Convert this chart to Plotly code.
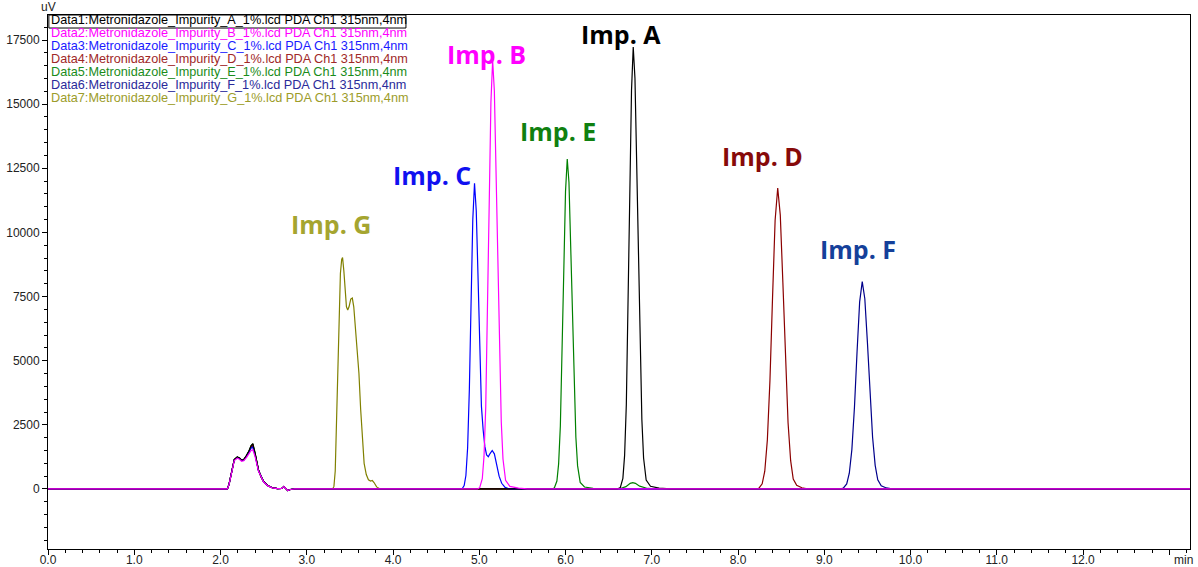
import plotly.graph_objects as go

# ---------------- data ----------------
legend_lines = [
    "Data1:Metronidazole_Impurity_A_1%.lcd PDA Ch1 315nm,4nm",
    "Data2:Metronidazole_Impurity_B_1%.lcd PDA Ch1 315nm,4nm",
    "Data3:Metronidazole_Impurity_C_1%.lcd PDA Ch1 315nm,4nm",
    "Data4:Metronidazole_Impurity_D_1%.lcd PDA Ch1 315nm,4nm",
    "Data5:Metronidazole_Impurity_E_1%.lcd PDA Ch1 315nm,4nm",
    "Data6:Metronidazole_Impurity_F_1%.lcd PDA Ch1 315nm,4nm",
    "Data7:Metronidazole_Impurity_G_1%.lcd PDA Ch1 315nm,4nm",
]
line_colors = ["#000000", "#FF00FF", "#0000FF", "#8B0000", "#008000", "#00008B", "#808000"]
legend_colors = ["#000000", "#FF00FF", "#1A1AFF", "#A02828", "#1A8C1A", "#2A2A9A", "#9C9C2A"]

x_tick_vals = [0, 1, 2, 3, 4, 5, 6, 7, 8, 9, 10, 11, 12, 13]
x_tick_text = ["0.0", "1.0", "2.0", "3.0", "4.0", "5.0", "6.0", "7.0", "8.0", "9.0",
               "10.0", "11.0", "12.0", ""]
y_tick_vals = [0, 2500, 5000, 7500, 10000, 12500, 15000, 17500]
y_tick_text = ["0", "2500", "5000", "7500", "10000", "12500", "15000", "17500"]

run_end = 13.24

# solvent front (common times, per-trace values)
solvent_t = [2.08, 2.10, 2.13, 2.16, 2.195, 2.22, 2.245, 2.27, 2.30, 2.33, 2.355, 2.375,
             2.40, 2.44, 2.47, 2.50, 2.55, 2.60, 2.66, 2.71, 2.735, 2.76, 2.78, 2.81, 2.86]
solvent_A = [0, 200, 750, 1150, 1250, 1210, 1120, 1150, 1300, 1480, 1690, 1770,
             1420, 750, 480, 290, 130, 50, 10, 20, 90, 0, -60, -20, 0]
solvent_B = [0, 190, 720, 1110, 1200, 1160, 1080, 1100, 1220, 1360, 1500, 1530,
             1270, 700, 450, 270, 120, 45, 10, 20, 90, 0, -60, -20, 0]
solvent_C = [0, 200, 740, 1140, 1230, 1190, 1110, 1130, 1260, 1420, 1600, 1630,
             1340, 720, 465, 280, 125, 48, 10, 20, 90, 0, -60, -20, 0]
solvent_D = [0, 200, 745, 1145, 1240, 1200, 1115, 1140, 1280, 1450, 1650, 1710,
             1380, 735, 470, 285, 128, 49, 10, 20, 90, 0, -60, -20, 0]
solvent_E = [0, 200, 750, 1150, 1250, 1210, 1120, 1150, 1300, 1480, 1690, 1760,
             1410, 745, 478, 288, 130, 50, 10, 20, 90, 0, -60, -20, 0]
solvent_F = [0, 200, 745, 1145, 1240, 1200, 1115, 1135, 1270, 1440, 1630, 1660,
             1360, 730, 468, 283, 127, 48, 10, 20, 90, 0, -60, -20, 0]
solvent_G = [0, 200, 745, 1145, 1240, 1200, 1115, 1138, 1275, 1445, 1640, 1690,
             1370, 732, 470, 284, 128, 49, 10, 20, 90, 0, -60, -20, 0]

# Impurity A (black)
peakA_t = [6.60, 6.635, 6.665, 6.685, 6.705, 6.725, 6.745, 6.765, 6.785, 6.805, 6.825,
           6.845, 6.865, 6.885, 6.905, 6.935, 6.985, 7.085, 7.215]
peakA_v = [0, 52, 414, 1310, 3290, 6806, 11406, 15541, 17230, 16007, 12819,
           8856, 5272, 2705, 1206, 345, 103, 34, 0]

# Impurity B (magenta)
peakB_t = [4.98, 5.005, 5.035, 5.055, 5.075, 5.095, 5.115, 5.135, 5.155, 5.175, 5.195,
           5.215, 5.235, 5.255, 5.275, 5.305, 5.355, 5.455, 5.555]
peakB_v = [0, 50, 401, 1269, 3190, 6597, 11055, 15063, 16700, 15514, 12425,
           8584, 5110, 2622, 1169, 334, 100, 33, 0]

# Impurity C (blue) incl. small secondary peak
peakC_t = [4.78, 4.805, 4.825, 4.845, 4.865, 4.885, 4.905, 4.925, 4.945, 4.965, 4.985,
           5.005, 5.025, 5.045, 5.065, 5.085, 5.105, 5.125, 5.15, 5.175, 5.20, 5.23,
           5.26, 5.30, 5.35]
peakC_v = [0, 24, 131, 524, 1609, 3874, 7235, 10513, 11920, 10847, 8344,
           5483, 3218, 2300, 1650, 1330, 1260, 1380, 1500, 1370, 950, 500,
           220, 60, 0]

# Impurity D (dark red)
peakD_t = [8.20, 8.24, 8.28, 8.31, 8.34, 8.37, 8.40, 8.43, 8.46, 8.49, 8.52, 8.55,
           8.58, 8.61, 8.64, 8.68, 8.74, 8.82]
peakD_v = [0, 23, 199, 692, 1912, 4223, 7449, 10475, 11730, 10674, 8035, 5009,
           2581, 1103, 387, 141, 47, 0]

# Impurity E (green) + small peak at the A position
peakE_t = [5.835, 5.87, 5.90, 5.92, 5.94, 5.96, 5.98, 6.00, 6.02, 6.04, 6.06, 6.08,
           6.10, 6.12, 6.14, 6.17, 6.22, 6.32, 6.45,
           6.62, 6.70, 6.75, 6.78, 6.81, 6.86, 6.95, 7.05]
peakE_v = [0, 39, 309, 977, 2456, 5080, 8513, 11600, 12860, 11947, 9568, 6610,
           3935, 2019, 900, 257, 77, 26, 0,
           0, 90, 220, 250, 220, 110, 20, 0]

# Impurity F (navy)
peakF_t = [9.18, 9.22, 9.26, 9.29, 9.32, 9.35, 9.38, 9.41, 9.44, 9.47, 9.50, 9.53,
           9.56, 9.59, 9.62, 9.66, 9.72, 9.80]
peakF_v = [0, 32, 194, 614, 1544, 3194, 5352, 7293, 8085, 7414, 5716, 3703,
           2013, 922, 356, 121, 40, 0]

# Impurity G (olive) - split peak with small tail bump
peakG_t = [3.30, 3.315, 3.33, 3.345, 3.36, 3.375, 3.39, 3.405, 3.415, 3.43, 3.445,
           3.46, 3.475, 3.49, 3.51, 3.528, 3.545, 3.565, 3.585, 3.605, 3.625, 3.645,
           3.665, 3.69, 3.715, 3.74, 3.76, 3.78, 3.81, 3.85]
peakG_v = [0, 100, 700, 2500, 5000, 7000, 8400, 8950, 9020, 8500, 7600,
           7100, 6980, 7100, 7400, 7440, 7100, 6300, 5300, 4500, 3100, 1800,
           1000, 560, 360, 310, 330, 250, 80, 0]

# peak labels
label_text = ["Imp. A", "Imp. B", "Imp. C", "Imp. D", "Imp. E", "Imp. F", "Imp. G"]
label_t = [6.642, 5.078, 4.449, 8.288, 5.917, 9.395, 3.283]
label_v = [17717, 16937, 12232, 12973, 13947, 9355, 10322]
label_colors = ["#000000", "#FF00FF", "#1010F0", "#870A0A", "#108010", "#15409A", "#A5A530"]

# ---------------- figure ----------------
traces = [
    ("Data1", solvent_A, peakA_t, peakA_v, 0),
    ("Data2", solvent_B, peakB_t, peakB_v, 1),
    ("Data3", solvent_C, peakC_t, peakC_v, 2),
    ("Data4", solvent_D, peakD_t, peakD_v, 3),
    ("Data5", solvent_E, peakE_t, peakE_v, 4),
    ("Data6", solvent_F, peakF_t, peakF_v, 5),
    ("Data7", solvent_G, peakG_t, peakG_v, 6),
]
draw_order = [6, 5, 4, 3, 2, 0, 1]

fig = go.Figure()
for i in draw_order:
    name, sv, pt, pv, ci = traces[i]
    t = [0.0] + solvent_t + pt + [run_end]
    v = [0] + sv + pv + [0]
    fig.add_trace(go.Scatter(x=t, y=v, mode="lines", name=name,
                             line=dict(color=line_colors[ci], width=1.2),
                             showlegend=False, hoverinfo="skip"))

annotations = []
for txt, tx, vy, col in zip(label_text, label_t, label_v, label_colors):
    annotations.append(dict(x=tx, y=vy, xref="x", yref="y", text="<b>%s</b>" % txt,
                            showarrow=False, xanchor="center", yanchor="middle",
                            font=dict(family="Open Sans", size=25, color=col)))

legend_y = [18291, 17784, 17277, 16770, 16263, 15756, 15249]
for txt, col, vy in zip(legend_lines, legend_colors, legend_y):
    annotations.append(dict(x=0.012, y=vy, xref="x", yref="y", text=txt, showarrow=False,
                            xanchor="left", yanchor="middle",
                            font=dict(family="Liberation Sans", size=12.7, color=col)))

annotations.append(dict(x=0, y=1, xref="paper", yref="paper", text="uV", showarrow=False,
                        xanchor="center", yanchor="bottom", yshift=-1,
                        font=dict(family="Liberation Sans", size=12, color="#222222")))
annotations.append(dict(x=1, y=0, xref="paper", yref="paper", text="min", showarrow=False,
                        xanchor="right", yanchor="top", xshift=5, yshift=-2,
                        font=dict(family="Liberation Sans", size=12, color="#222222")))

fig.update_layout(
    width=1198, height=567,
    margin=dict(l=48, r=8, t=15, b=18, autoexpand=False),
    plot_bgcolor="white", paper_bgcolor="white",
    annotations=annotations,
    shapes=[dict(type="rect", xref="x", yref="y", x0=0.01, x1=4.15, y0=17967, y1=18475,
                 line=dict(color="black", width=1))],
    xaxis=dict(range=[0, run_end], showgrid=False, zeroline=False, automargin=False,
               showline=True, linecolor="black", linewidth=1, mirror=True,
               tickmode="array", tickvals=x_tick_vals, ticktext=x_tick_text,
               ticks="outside", ticklen=5, tickcolor="black", tickwidth=1,
               ticklabelstandoff=-5,
               tickfont=dict(family="Liberation Sans", size=12, color="#222222"),
               minor=dict(tickmode="linear", tick0=0, dtick=0.2, ticks="outside",
                          ticklen=3, tickcolor="black")),
    yaxis=dict(range=[-2340, 18475], showgrid=False, zeroline=False, automargin=False,
               showline=True, linecolor="black", linewidth=1, mirror=True,
               tickmode="array", tickvals=y_tick_vals, ticktext=y_tick_text,
               ticks="outside", ticklen=5, tickcolor="black", tickwidth=1,
               tickfont=dict(family="Liberation Sans", size=12, color="#222222"),
               minor=dict(tickmode="linear", tick0=0, dtick=500, ticks="outside",
                          ticklen=3, tickcolor="black")),
)

fig.write_html(
    "out.html",
    config={"displayModeBar": False},
    post_script="document.body.style.margin='0px';document.body.style.overflow='hidden';",
)
